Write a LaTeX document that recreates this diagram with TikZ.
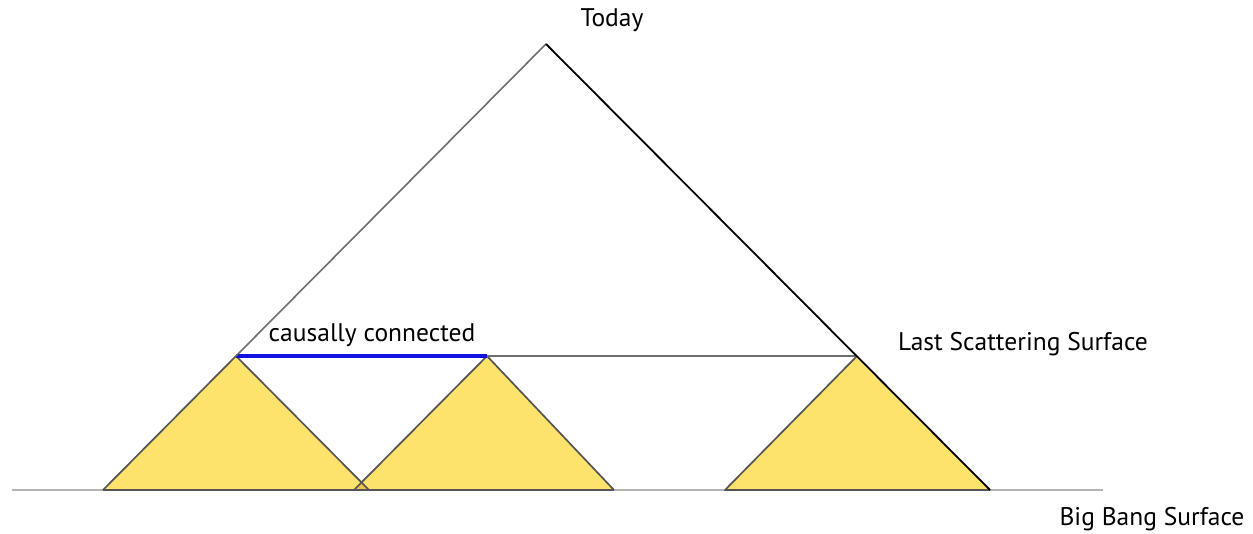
\documentclass[tikz,border=0pt]{standalone}
\usepackage{fontspec}
\setmainfont{PT Sans}
\usetikzlibrary{calc}
\definecolor{conefill}{HTML}{FDE36C}
\definecolor{overlapfill}{HTML}{F2C24A}
\definecolor{edgegray}{HTML}{555555}
\definecolor{lssgray}{HTML}{6E6E6E}
\definecolor{bbgray}{HTML}{B4B4B4}
\definecolor{causalblue}{HTML}{1010E0}
\tikzset{
  x=1pt, y=-1pt,
  lbl/.style={font=\fontsize{25.5}{28}\selectfont, inner sep=0pt},
  coneedge/.style={edgegray, line width=1.7pt, line join=round},
}
\begin{document}
\begin{tikzpicture}
\useasboundingbox (0,0) rectangle (1253,534);
% key points
\coordinate (today) at (546,44);
\coordinate (lssL) at (236,356);
\coordinate (lssM) at (487,356);
\coordinate (lssR) at (857,356);
\coordinate (bbL) at (12,490);
\coordinate (bbR) at (1103,490);
\coordinate (endR) at (990,490);

% Big Bang surface
\draw[bbgray, line width=2pt] (bbL) -- (bbR);

% past light cones of points on the last scattering surface
\fill[conefill] (lssL) -- (103,490) -- (369,490) -- cycle;
\fill[conefill] (lssM) -- (354,490) -- (614,490) -- cycle;
\fill[overlapfill] (361.5,482.5) -- (354,490) -- (369,490) -- cycle;
\draw[coneedge] (103,490) -- (lssL) -- (369,490);
\draw[coneedge] (354,490) -- (lssM) -- (614,490);
\draw[coneedge] (103,490) -- (614,490);
\fill[conefill] (lssR) -- (725,490) -- (endR) -- cycle;
\draw[coneedge] (lssR) -- (725,490) -- (endR);

% last scattering surface
\draw[lssgray, line width=2.2pt] (lssL) -- (lssR);
\draw[causalblue, line width=4pt] (lssL) -- (lssM);

% past light cone of today
\draw[lssgray, line width=1.6pt] (today) -- (lssL);
\draw[black, line width=1.8pt] (today) -- (endR);

% labels
\node[lbl] (tToday) at (612,20) {Today};
\node[lbl] (tCausal) at (372,335) {causally connected};
\node[lbl] (tLSS) at (1023,344) {Last Scattering Surface};
\node[lbl] (tBB) at (1152,519) {Big Bang Surface};
\end{tikzpicture}
\end{document}
